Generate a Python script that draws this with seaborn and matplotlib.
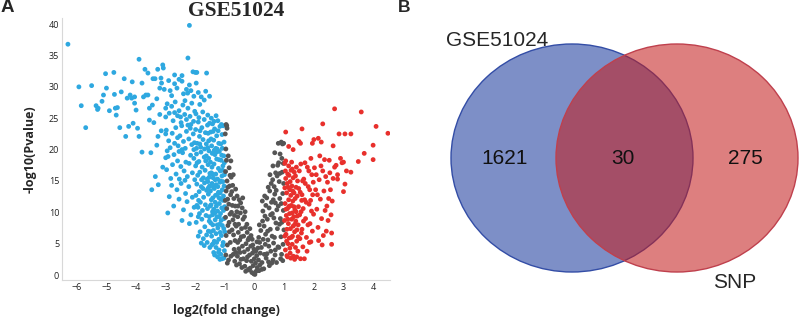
"""
Volcano plot (GSE51024) + Venn diagram with SNP genes
"""

import numpy as np
import pandas as pd
import matplotlib
matplotlib.use("Agg")
import matplotlib.pyplot as plt
from matplotlib.patches import Ellipse
import seaborn as sns

# ---- du lieu volcano: (log2FC, -log10 P), uoc luong tu hinh ----
blue_pts = [
    # vung thua ben trai
    (-6.3, 36.8), (-5.93, 30.0), (-5.85, 27.0), (-5.7, 23.5), (-5.5, 30.2),
    (-5.35, 27.0), (-5.3, 26.4), (-5.28, 26.6), (-5.15, 27.7), (-5.1, 28.7),
    (-5.0, 29.8), (-5.03, 32.1), (-4.9, 26.2), (-4.75, 32.3), (-4.73, 28.8),
    (-4.7, 26.6), (-4.67, 25.5), (-4.63, 26.7), (-4.55, 23.5), (-4.5, 29.2),
    (-4.4, 31.3), (-4.35, 22.1), (-4.3, 28.2), (-4.25, 23.7), (-4.2, 28.7),
    (-4.15, 28.2), (-4.13, 30.8), (-4.1, 24.2), (-4.05, 28.4), (-4.05, 27.4),
    (-4.0, 26.3), (-3.95, 23.4), (-3.9, 34.4), (-3.9, 22.1), (-3.8, 19.6),
    (-3.8, 30.6), (-3.75, 28.4), (-3.7, 32.8), (-3.67, 28.7), (-3.6, 28.7),
    (-3.6, 32.2), (-3.55, 26.6), (-3.55, 24.7), (-3.5, 19.5), (-3.47, 13.6),
    (-3.43, 31.3), (-3.36, 31.3), (-3.35, 15.7), (-3.3, 28.1), (-3.26, 22.1),
    (-3.3, 20.7), (-3.27, 32.8), (-3.25, 14.4), (-3.2, 29.8), (-3.16, 31.4),
    (-3.14, 30.6), (-3.1, 33.5), (-3.08, 33.0), (-3.05, 29.6), (-3.0, 26.6),
    (-3.0, 25.2), (-3.0, 22.5), (-2.93, 9.9), (-3.0, 18.7), (-2.95, 19.8),
    (-3.4, 24.3), (-3.45, 27.1), (-3.2, 25.6), (-3.15, 23.0), (-3.1, 17.2),
    (-2.2, 39.8), (-2.25, 34.6), (-2.0, 32.3), (-2.45, 31.8), (-2.7, 31.9),
    # x -3 .. -2
    (-2.9, 31.0), (-2.85, 29.4), (-2.8, 28.6), (-2.7, 30.5), (-2.62, 29.8),
    (-2.55, 31.2), (-2.45, 30.9), (-2.4, 28.9), (-2.3, 29.6), (-2.26, 29.0),
    (-2.2, 30.3), (-2.15, 29.4), (-2.08, 32.4), (-2.05, 28.5),
    (-2.95, 27.3), (-2.88, 25.8), (-2.8, 26.9), (-2.75, 24.6), (-2.68, 27.6),
    (-2.6, 25.4), (-2.55, 26.2), (-2.48, 24.3), (-2.42, 27.1), (-2.36, 25.6),
    (-2.3, 24.8), (-2.25, 26.6), (-2.18, 25.3), (-2.12, 27.4), (-2.06, 24.5),
    (-2.02, 26.1), (-2.7, 25.9), (-2.5, 25.2), (-2.35, 27.8), (-2.15, 24.0),
    (-2.98, 23.1), (-2.9, 21.4), (-2.85, 20.3), (-2.78, 22.6), (-2.7, 21.0),
    (-2.66, 23.5), (-2.58, 20.6), (-2.52, 22.2), (-2.46, 23.8), (-2.4, 21.3),
    (-2.34, 20.2), (-2.3, 22.9), (-2.22, 21.7), (-2.17, 23.4), (-2.12, 20.8),
    (-2.07, 22.5), (-2.03, 21.1), (-2.6, 21.9), (-2.45, 20.0), (-2.25, 23.9),
    (-2.97, 16.8), (-2.92, 18.9), (-2.83, 15.4), (-2.77, 17.6), (-2.72, 19.2),
    (-2.65, 16.1), (-2.6, 18.2), (-2.54, 15.3), (-2.49, 17.3), (-2.43, 19.5),
    (-2.38, 16.6), (-2.32, 18.0), (-2.27, 15.7), (-2.21, 17.8), (-2.16, 19.1),
    (-2.1, 16.3), (-2.05, 18.6), (-2.02, 15.2), (-2.55, 19.7), (-2.35, 15.1),
    (-2.88, 12.5), (-2.8, 14.3), (-2.73, 11.0), (-2.62, 13.6), (-2.55, 12.1),
    (-2.48, 14.6), (-2.4, 10.4), (-2.33, 13.0), (-2.28, 11.7), (-2.22, 14.1),
    (-2.15, 9.6), (-2.1, 12.4), (-2.04, 10.8), (-2.45, 8.7), (-2.2, 8.2),
    # x -2 .. -1.5
    (-1.97, 30.6), (-1.95, 32.3), (-1.9, 29.1), (-1.85, 27.2), (-1.8, 28.4),
    (-1.75, 26.0), (-1.7, 27.9), (-1.65, 29.3), (-1.62, 32.2), (-1.58, 25.5),
    (-1.52, 28.5), (-1.98, 25.7), (-1.88, 25.1),
    (-1.99, 23.2), (-1.94, 21.0), (-1.9, 24.4), (-1.86, 22.1), (-1.82, 20.4),
    (-1.78, 23.5), (-1.74, 21.6), (-1.7, 24.8), (-1.66, 22.7), (-1.63, 20.9),
    (-1.59, 23.9), (-1.55, 21.4), (-1.52, 24.2), (-1.96, 20.2), (-1.84, 23.0),
    (-1.69, 20.1), (-1.57, 22.6),
    (-1.99, 17.4), (-1.96, 19.3), (-1.92, 15.9), (-1.88, 18.1), (-1.85, 16.4),
    (-1.81, 19.6), (-1.77, 17.2), (-1.73, 15.5), (-1.7, 18.8), (-1.67, 16.7),
    (-1.63, 19.0), (-1.6, 15.3), (-1.57, 17.6), (-1.54, 19.8), (-1.51, 16.2),
    (-1.94, 17.9), (-1.79, 15.2), (-1.65, 18.2), (-1.53, 15.6),
    (-1.98, 12.7), (-1.95, 14.5), (-1.91, 10.8), (-1.87, 13.3), (-1.83, 11.6),
    (-1.8, 14.1), (-1.76, 10.3), (-1.72, 12.4), (-1.69, 14.7), (-1.66, 11.2),
    (-1.62, 13.5), (-1.59, 10.6), (-1.56, 12.9), (-1.52, 14.2), (-1.5, 11.0),
    (-1.89, 11.9), (-1.74, 13.8), (-1.58, 14.9),
    (-1.97, 8.4), (-1.9, 9.3), (-1.84, 6.9), (-1.78, 8.9), (-1.73, 5.8),
    (-1.68, 7.7), (-1.64, 9.5), (-1.6, 5.2), (-1.56, 7.0), (-1.53, 8.6),
    (-1.51, 4.4), (-1.86, 9.8), (-1.7, 4.7), (-1.62, 6.4),
    # x -1.5 .. -1
    (-1.48, 22.8), (-1.45, 20.6), (-1.42, 24.1), (-1.38, 21.5), (-1.35, 23.3),
    (-1.31, 20.2), (-1.28, 22.2), (-1.24, 24.6), (-1.21, 21.0), (-1.17, 23.7),
    (-1.14, 20.9), (-1.1, 22.4), (-1.06, 23.8), (-1.03, 21.2), (-1.4, 22.9),
    (-1.26, 20.1), (-1.12, 24.0), (-1.3, 25.4), (-1.46, 25.0),
    (-1.49, 18.0), (-1.46, 16.3), (-1.43, 19.4), (-1.4, 15.5), (-1.37, 17.7),
    (-1.34, 19.2), (-1.31, 16.1), (-1.28, 18.5), (-1.25, 15.3), (-1.22, 17.0),
    (-1.19, 19.7), (-1.16, 16.6), (-1.13, 18.3), (-1.1, 15.8), (-1.07, 17.4),
    (-1.04, 19.0), (-1.02, 16.0), (-1.44, 17.2), (-1.33, 15.2), (-1.2, 18.4),
    (-1.08, 16.7), (-1.36, 19.9), (-1.15, 15.0),
    (-1.49, 13.4), (-1.47, 11.2), (-1.44, 14.6), (-1.41, 12.3), (-1.38, 10.5),
    (-1.36, 13.8), (-1.33, 11.6), (-1.3, 14.4), (-1.27, 12.8), (-1.25, 10.2),
    (-1.22, 13.2), (-1.19, 11.4), (-1.17, 14.8), (-1.14, 12.1), (-1.11, 10.7),
    (-1.09, 13.6), (-1.06, 11.9), (-1.03, 14.2), (-1.01, 10.9), (-1.42, 10.1),
    (-1.29, 11.0), (-1.16, 13.1), (-1.05, 12.6), (-1.39, 14.0), (-1.24, 14.1),
    (-1.48, 8.3), (-1.45, 6.2), (-1.42, 9.6), (-1.39, 7.1), (-1.36, 5.4),
    (-1.33, 8.8), (-1.3, 6.6), (-1.27, 9.3), (-1.24, 7.5), (-1.21, 5.7),
    (-1.18, 8.1), (-1.15, 9.8), (-1.12, 6.3), (-1.09, 7.9), (-1.06, 5.2),
    (-1.03, 9.0), (-1.01, 6.9), (-1.4, 5.0), (-1.26, 8.0), (-1.13, 8.7),
    (-1.04, 7.4), (-1.34, 9.9),
    (-1.38, 3.6), (-1.3, 4.4), (-1.25, 2.9), (-1.2, 4.0), (-1.14, 3.3),
    (-1.08, 4.7), (-1.04, 2.7), (-1.02, 3.9), (-1.44, 4.8), (-1.17, 2.5),
    # them diem cho vung day x -1.6 .. -1
    (-1.58, 20.3), (-1.47, 21.7), (-1.37, 24.5), (-1.23, 23.0), (-1.09, 20.2),
    (-1.55, 18.6), (-1.42, 16.1), (-1.29, 19.6), (-1.11, 19.1), (-1.02, 17.9),
    (-1.56, 13.9), (-1.46, 12.0), (-1.32, 12.7), (-1.2, 12.3), (-1.07, 14.9),
    (-1.53, 9.3), (-1.41, 8.0), (-1.28, 5.2), (-1.16, 6.8), (-1.05, 10.3),
    (-1.35, 3.2), (-1.22, 3.6), (-1.1, 2.6), (-1.48, 6.9), (-1.19, 9.3),
    (-1.9, 6.2), (-1.8, 5.1), (-1.95, 11.1), (-1.85, 20.9), (-2.05, 20.0),
]

gray_pts = [
    (-0.99, 22.5), (-0.97, 20.1), (-0.95, 18.3), (-0.98, 16.5), (-0.93, 15.0),
    (-0.96, 13.4), (-0.91, 12.1), (-0.94, 10.6), (-0.98, 9.2), (-0.9, 7.9),
    (-0.96, 6.3), (-0.92, 4.8), (-0.97, 3.2), (-0.88, 2.4), (-0.86, 17.1),
    (-0.84, 14.2), (-0.87, 11.3), (-0.83, 9.7), (-0.85, 6.9), (-0.82, 5.2),
    (-0.81, 12.8), (-0.89, 19.0), (-0.94, 23.8), (-0.8, 3.0), (-0.86, 8.4),
    (-0.99, 11.9), (-0.92, 1.9), (-0.83, 15.9), (-0.96, 24.0), (-0.93, 23.4),
    (-0.79, 15.6), (-0.77, 13.3), (-0.75, 11.1), (-0.73, 8.8), (-0.71, 6.4),
    (-0.69, 4.1), (-0.67, 2.2), (-0.78, 10.0), (-0.76, 7.2), (-0.74, 14.3),
    (-0.72, 3.3), (-0.7, 12.2), (-0.68, 9.5), (-0.66, 5.5), (-0.64, 13.7),
    (-0.62, 7.8), (-0.61, 1.6), (-0.65, 11.0), (-0.63, 3.6), (-0.6, 10.1),
    (-0.59, 12.6), (-0.57, 9.3), (-0.55, 6.8), (-0.53, 4.2), (-0.51, 1.8),
    (-0.58, 3.0), (-0.56, 11.0), (-0.54, 8.1), (-0.52, 12.0), (-0.5, 5.6),
    (-0.48, 9.9), (-0.46, 2.5), (-0.44, 7.4), (-0.42, 10.7), (-0.41, 4.6),
    (-0.47, 11.5), (-0.43, 1.2), (-0.45, 6.1),
    (-0.39, 8.9), (-0.37, 6.2), (-0.35, 3.7), (-0.33, 1.4), (-0.31, 7.6),
    (-0.29, 5.0), (-0.27, 2.3), (-0.25, 6.8), (-0.23, 4.1), (-0.21, 0.9),
    (-0.38, 2.6), (-0.34, 9.3), (-0.3, 0.6), (-0.26, 8.1), (-0.22, 5.6),
    (-0.19, 5.9), (-0.17, 3.2), (-0.15, 1.1), (-0.13, 4.6), (-0.11, 2.2),
    (-0.09, 0.4), (-0.07, 3.5), (-0.05, 1.5), (-0.03, 0.2), (-0.01, 2.6),
    (-0.18, 0.8), (-0.12, 6.3), (-0.06, 4.8),
    (0.01, 0.1), (0.03, 1.9), (0.05, 0.6), (0.07, 3.1), (0.09, 1.2),
    (0.11, 4.3), (0.13, 2.4), (0.15, 0.7), (0.17, 5.2), (0.19, 3.5),
    (0.04, 3.8), (0.14, 6.0), (0.18, 1.6),
    (0.21, 7.1), (0.23, 4.4), (0.25, 2.0), (0.27, 8.6), (0.29, 5.7),
    (0.31, 1.0), (0.33, 3.3), (0.35, 9.4), (0.37, 6.5), (0.39, 2.7),
    (0.24, 0.9), (0.32, 7.8), (0.38, 11.1), (0.28, 10.2), (0.36, 4.9),
    (0.41, 12.3), (0.43, 8.9), (0.45, 5.6), (0.47, 2.1), (0.49, 10.7),
    (0.51, 13.4), (0.53, 7.3), (0.55, 3.8), (0.57, 11.6), (0.59, 6.2),
    (0.42, 3.4), (0.46, 14.0), (0.5, 1.5), (0.54, 9.6), (0.58, 1.9),
    (0.44, 7.0), (0.56, 14.6),
    (0.61, 15.2), (0.63, 12.0), (0.65, 9.1), (0.67, 6.0), (0.69, 3.2),
    (0.71, 16.3), (0.73, 13.5), (0.75, 10.4), (0.77, 7.4), (0.79, 4.5),
    (0.62, 2.4), (0.66, 14.1), (0.7, 11.5), (0.74, 2.0), (0.78, 17.5),
    (0.64, 5.1), (0.72, 8.3), (0.76, 15.8), (0.62, 17.4), (0.68, 19.5),
    (0.81, 17.9), (0.83, 14.9), (0.85, 12.2), (0.87, 9.0), (0.89, 6.1),
    (0.91, 3.3), (0.93, 16.4), (0.95, 13.0), (0.97, 10.3), (0.99, 7.2),
    (0.82, 4.4), (0.86, 19.3), (0.9, 11.4), (0.94, 20.9), (0.96, 4.9),
    (0.98, 14.6), (0.84, 8.1), (0.88, 2.6), (0.92, 18.6), (0.98, 21.0),
    (0.95, 2.3), (0.8, 21.0), (0.9, 21.2),
    # them diem
    (-0.9, 14.0), (-0.8, 18.2), (-0.72, 16.0), (-0.66, 8.1), (-0.57, 5.2),
    (-0.49, 3.6), (-0.4, 12.3), (-0.32, 10.1), (-0.24, 2.9), (-0.16, 7.4),
    (-0.08, 5.7), (-0.02, 4.1), (0.08, 5.3), (0.16, 8.0), (0.26, 11.8),
    (0.34, 12.6), (0.48, 4.6), (0.52, 16.0), (0.6, 9.8), (0.68, 12.9),
    (0.8, 11.0), (0.85, 16.2), (0.92, 8.4), (0.97, 17.8), (0.7, 4.0),
]

red_pts = [
    (1.02, 17.8), (1.05, 15.4), (1.08, 13.1), (1.11, 10.6), (1.14, 8.2),
    (1.17, 5.9), (1.2, 3.5), (1.23, 16.7), (1.26, 14.2), (1.29, 11.8),
    (1.32, 9.3), (1.35, 6.9), (1.38, 4.4), (1.41, 17.2), (1.44, 12.6),
    (1.47, 8.0), (1.03, 11.4), (1.06, 6.5), (1.09, 3.1), (1.12, 16.1),
    (1.15, 12.0), (1.18, 9.8), (1.21, 7.4), (1.24, 11.1), (1.27, 4.9),
    (1.3, 15.5), (1.33, 13.1), (1.36, 10.4), (1.39, 8.6), (1.42, 5.4),
    (1.45, 15.0), (1.48, 10.9), (1.01, 8.7), (1.04, 4.0), (1.07, 9.5),
    (1.1, 14.6), (1.13, 5.0), (1.16, 15.9), (1.19, 13.6), (1.22, 2.7),
    (1.25, 8.9), (1.28, 6.2), (1.31, 3.0), (1.34, 16.4), (1.37, 12.2),
    (1.4, 14.0), (1.43, 7.2), (1.46, 3.8), (1.49, 13.8), (1.05, 18.2),
    (1.15, 17.4), (1.25, 18.0), (1.02, 13.9), (1.09, 7.3), (1.18, 11.0),
    (1.3, 7.8), (1.2, 14.9), (1.35, 2.5), (1.11, 2.9), (1.4, 10.1),
    (1.06, 10.5), (1.27, 9.9),
    (1.51, 16.6), (1.54, 13.2), (1.57, 10.1), (1.6, 7.3), (1.63, 4.5),
    (1.66, 15.3), (1.69, 12.0), (1.72, 9.0), (1.75, 6.0), (1.78, 17.2),
    (1.81, 14.1), (1.84, 11.3), (1.87, 8.2), (1.9, 5.3), (1.93, 16.0),
    (1.96, 12.8), (1.99, 9.7), (1.53, 5.8), (1.59, 11.9), (1.65, 8.6),
    (1.71, 14.6), (1.77, 3.8), (1.83, 16.6), (1.89, 11.9), (1.95, 7.0),
    (1.56, 17.7), (1.62, 15.0), (1.68, 2.6), (1.74, 11.6), (1.8, 8.0),
    (1.86, 13.6), (1.92, 10.2), (1.98, 14.8), (1.55, 2.6), (1.7, 17.9),
    (1.85, 5.2), (1.6, 12.8),
    (2.02, 17.1), (2.06, 13.6), (2.1, 10.5), (2.14, 7.6), (2.18, 15.2),
    (2.22, 12.1), (2.26, 9.0), (2.3, 16.6), (2.34, 13.4), (2.38, 10.3),
    (2.42, 7.0), (2.46, 14.8), (2.5, 12.2), (2.54, 16.3), (2.58, 9.6),
    (2.62, 11.8), (2.08, 16.0), (2.16, 5.5), (2.24, 17.4), (2.32, 6.3),
    (2.4, 15.7), (2.48, 8.7), (2.56, 13.6), (2.6, 4.9), (2.6, 6.7),
    (2.12, 12.8), (2.2, 19.0), (2.28, 4.8), (2.44, 11.0), (2.65, 15.4),
    (2.52, 18.3), (2.36, 18.4), (2.7, 17.2),
    (1.05, 22.8), (1.6, 23.3), (2.3, 24.1), (2.7, 26.5), (3.6, 26.0),
    (4.1, 23.7), (4.5, 22.6), (2.85, 22.5), (3.05, 22.5), (3.25, 22.5),
    (2.0, 21.6), (2.15, 21.8), (2.25, 21.2), (1.95, 21.0), (1.5, 21.3),
    (1.55, 21.0), (2.65, 20.6), (4.0, 20.7), (1.9, 18.6), (2.9, 18.6),
    (3.7, 19.4), (4.0, 18.4), (3.5, 18.1), (2.95, 17.9), (3.0, 18.0),
    (3.1, 16.6), (3.25, 16.4), (3.05, 14.5), (3.0, 13.3), (2.75, 17.5),
    (2.8, 16.0), (2.8, 15.3), (1.15, 20.5), (1.3, 20.0),
    # them diem vung day x 1 .. 1.6
    (1.04, 16.6), (1.13, 14.0), (1.22, 12.7), (1.33, 10.9), (1.44, 9.4),
    (1.08, 5.4), (1.19, 4.3), (1.29, 13.4), (1.38, 15.8), (1.47, 6.1),
    (1.12, 8.9), (1.24, 6.0), (1.36, 8.1), (1.02, 6.2), (1.16, 10.9),
    (1.52, 9.6), (1.58, 6.7), (1.64, 10.6), (1.42, 2.9), (1.27, 16.9),
]

x_ticks = [-6, -5, -4, -3, -2, -1, 0, 1, 2, 3, 4]
y_ticks = [0, 5, 10, 15, 20, 25, 30, 35, 40]

# ---- du lieu Venn ----
venn_sets = ["GSE51024", "SNP"]
venn_counts = [1621, 30, 275]   # chi GSE, giao, chi SNP


def build_frame():
    """Ghep cac nhom diem thanh mot DataFrame"""
    frames = []
    for name, pts in [("down", blue_pts), ("ns", gray_pts), ("up", red_pts)]:
        arr = np.array(pts)
        frames.append(pd.DataFrame({"logFC": arr[:, 0], "logP": arr[:, 1], "group": name}))
    return pd.concat(frames, ignore_index=True)


def main():
    sns.set_style("white")
    plt.rcParams["font.family"] = ["Open Sans", "DejaVu Sans"]

    fig = plt.figure(figsize=(8, 3.19), dpi=100)

    # ---- A: volcano ----
    ax = fig.add_axes([0.0775, 0.122, 0.41, 0.822])
    df = build_frame()
    palette = {"down": "#2ea8e0", "ns": "#555555", "up": "#e8302c"}
    sns.scatterplot(data=df, x="logFC", y="logP", hue="group", palette=palette,
                    s=12, linewidth=0, legend=False, ax=ax)
    ax.set_xlim(-6.5, 4.57)
    ax.set_ylim(-0.8, 41)
    ax.set_xticks(x_ticks)
    ax.set_yticks(y_ticks)
    ax.tick_params(length=0, labelsize=6.5, colors="#222222", pad=2)
    for side in ["top", "right"]:
        ax.spines[side].set_visible(False)
    for side in ["left", "bottom"]:
        ax.spines[side].set_color("#d8d8d8")
        ax.spines[side].set_linewidth(0.8)
    ax.set_xlabel("log2(fold change)", fontsize=9, fontweight="bold", labelpad=9)
    ax.set_ylabel("-log10(Pvalue)", fontsize=9, fontweight="bold", labelpad=9)

    fig.text(236 / 800, 1 - 1 / 319, "GSE51024", ha="center", va="top",
             fontsize=15.5, fontweight="bold", family=["Liberation Serif", "DejaVu Serif"])
    fig.text(1 / 800, 1 - 8 / 319, "A", ha="left", va="center", fontsize=13.5,
             fontweight="bold", family=["Liberation Sans", "DejaVu Sans"])
    fig.text(398 / 800, 1 - 8 / 319, "B", ha="left", va="center", fontsize=12.5,
             fontweight="bold", family=["Liberation Sans", "DejaVu Sans"])

    # ---- B: Venn ----
    ax2 = fig.add_axes([410 / 800, 0, 390 / 800, 1])
    ax2.set_xlim(410, 800)
    ax2.set_ylim(319, 0)
    ax2.axis("off")
    blue = Ellipse((572, 158), 242, 228, facecolor=(0.15, 0.27, 0.64, 0.6),
                   edgecolor=(0.2, 0.3, 0.65), linewidth=1)
    red = Ellipse((677, 158), 242, 228, facecolor=(0.77, 0.11, 0.11, 0.56),
                  edgecolor=(0.75, 0.25, 0.3), linewidth=1)
    ax2.add_patch(blue)
    ax2.add_patch(red)

    vfont = ["Liberation Sans", "DejaVu Sans"]
    ax2.text(497, 40, venn_sets[0], ha="center", va="center", fontsize=15, family=vfont)
    ax2.text(735, 283, venn_sets[1], ha="center", va="center", fontsize=15, family=vfont)
    for xpos, val in zip([505, 623, 745], venn_counts):
        ax2.text(xpos, 158, str(val), ha="center", va="center", fontsize=15,
                 family=vfont, color="#111111")

    fig.savefig("out.png", dpi=100)
    plt.close(fig)


if __name__ == "__main__":
    main()
